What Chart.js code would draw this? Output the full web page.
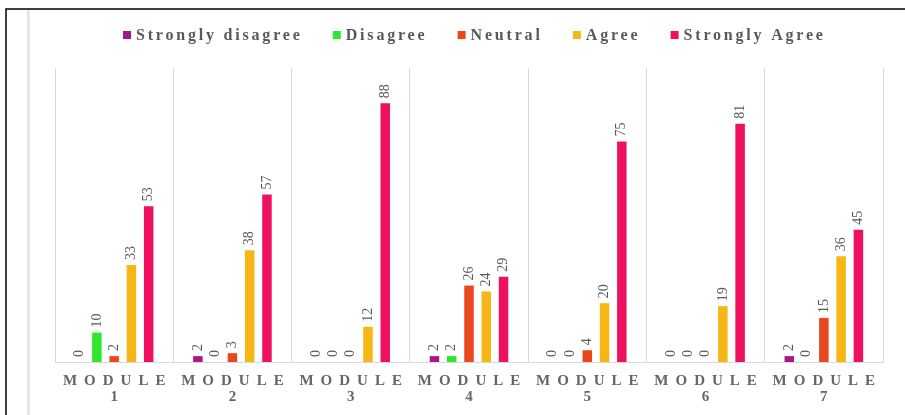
<!DOCTYPE html>
<html>
<head>
<meta charset="utf-8">
<script src="https://cdn.jsdelivr.net/npm/chart.js@4.4.0/dist/chart.umd.min.js"></script>
<style>
  html, body { margin: 0; padding: 0; background: #fff; }
  #wrap { position: relative; width: 905px; height: 415px; }
</style>
</head>
<body>
<div id="wrap"><canvas id="c" width="905" height="415"></canvas></div>
<script>
const categories = ['MODULE 1', 'MODULE 2', 'MODULE 3', 'MODULE 4', 'MODULE 5', 'MODULE 6', 'MODULE 7'];
const seriesNames = ['Strongly disagree', 'Disagree', 'Neutral', 'Agree', 'Strongly Agree'];
const stronglyDisagree = [0, 2, 0, 2, 0, 0, 2];
const disagree = [10, 0, 0, 2, 0, 0, 0];
const neutral = [2, 3, 0, 26, 4, 0, 15];
const agree = [33, 38, 12, 24, 20, 19, 36];
const stronglyAgree = [53, 57, 88, 29, 75, 81, 45];
const seriesColors = ['#A8168A', '#2EE62E', '#E8481C', '#F5B616', '#EE1160'];

const SERIF = '"Liberation Serif", "Times New Roman", serif';
const TEXT_GRAY = '#595959';

const frame = {
  id: 'frame',
  beforeDraw(chart) {
    const ctx = chart.ctx;
    ctx.save();
    ctx.fillStyle = '#fff';
    ctx.fillRect(0, 0, chart.width, chart.height);
    ctx.strokeStyle = '#000';
    ctx.lineWidth = 1.5;
    ctx.beginPath();
    ctx.moveTo(6, chart.height);
    ctx.lineTo(6, 9);
    ctx.lineTo(chart.width, 9);
    ctx.stroke();
    ctx.strokeStyle = '#e6e6e6';
    ctx.lineWidth = 3;
    ctx.beginPath();
    ctx.moveTo(28.5, 10);
    ctx.lineTo(28.5, chart.height);
    ctx.stroke();
    ctx.restore();
  }
};

const customLegend = {
  id: 'customLegend',
  afterDraw(chart) {
    const ctx = chart.ctx;
    const ls = 2.8;
    ctx.save();
    ctx.font = 'bold 16px ' + SERIF;
    ctx.letterSpacing = ls + 'px';
    ctx.textBaseline = 'middle';
    ctx.textAlign = 'left';
    let x = 123;
    const y = 35;
    chart.data.datasets.forEach((ds, i) => {
      ctx.fillStyle = ds.backgroundColor;
      ctx.fillRect(x, y - 4, 8, 8);
      x += 13;
      ctx.fillStyle = TEXT_GRAY;
      ctx.fillText(ds.label, x, y + 1);
      x += ctx.measureText(ds.label).width - ls + 33;
    });
    ctx.restore();
  }
};

const xLabels = {
  id: 'xLabels',
  afterDraw(chart) {
    const ctx = chart.ctx;
    const xs = chart.scales.x;
    const ls = 7;
    ctx.save();
    ctx.fillStyle = '#666';
    ctx.textBaseline = 'middle';
    chart.data.labels.forEach((lab, i) => {
      const cx = xs.getPixelForValue(i);
      const parts = lab.split(' ');
      ctx.font = 'bold 15px ' + SERIF;
      ctx.letterSpacing = ls + 'px';
      ctx.textAlign = 'left';
      const w = ctx.measureText(parts[0]).width - ls;
      ctx.fillText(parts[0], cx - w / 2, 381);
      ctx.letterSpacing = '0px';
      ctx.textAlign = 'center';
      ctx.fillText(parts[1], cx, 397);
    });
    ctx.restore();
  }
};

const valueLabels = {
  id: 'valueLabels',
  afterDatasetsDraw(chart) {
    const ctx = chart.ctx;
    ctx.save();
    ctx.font = '14px ' + SERIF;
    ctx.fillStyle = TEXT_GRAY;
    ctx.textAlign = 'left';
    ctx.textBaseline = 'middle';
    chart.data.datasets.forEach((ds, di) => {
      const meta = chart.getDatasetMeta(di);
      meta.data.forEach((el, i) => {
        ctx.save();
        ctx.translate(el.x, el.y - 5);
        ctx.rotate(-Math.PI / 2);
        ctx.fillText(String(ds.data[i]), 0, 0);
        ctx.restore();
      });
    });
    ctx.restore();
  }
};

const allSeries = [stronglyDisagree, disagree, neutral, agree, stronglyAgree];

new Chart(document.getElementById('c'), {
  type: 'bar',
  data: {
    labels: categories,
    datasets: allSeries.map((d, i) => ({
      label: seriesNames[i],
      data: d,
      backgroundColor: seriesColors[i],
      borderWidth: 0,
      categoryPercentage: 0.73,
      barPercentage: 0.55
    }))
  },
  options: {
    responsive: false,
    animation: false,
    layout: { padding: { left: 55, right: 22, top: 68, bottom: 53 } },
    plugins: { legend: { display: false }, tooltip: { enabled: false } },
    scales: {
      x: {
        ticks: { display: false },
        grid: { color: '#d9d9d9', lineWidth: 1, drawTicks: false, offset: true },
        border: { color: '#d9d9d9', width: 1 }
      },
      y: {
        display: false,
        min: 0,
        max: 100
      }
    }
  },
  plugins: [frame, valueLabels, customLegend, xLabels]
});
</script>
</body>
</html>
